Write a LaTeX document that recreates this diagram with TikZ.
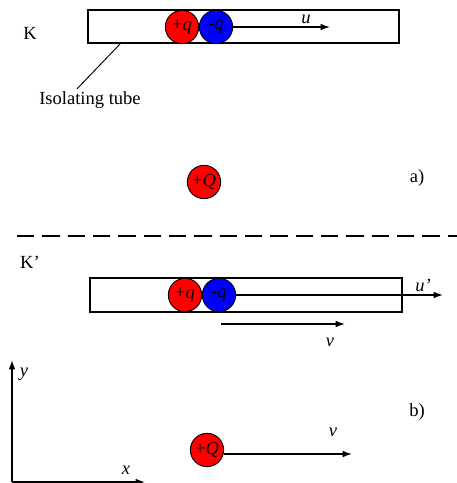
\documentclass[tikz,border=0pt]{standalone}
\usepackage{fontspec}
\setmainfont{Liberation Serif}
\usetikzlibrary{arrows.meta}
\definecolor{poscolor}{RGB}{255, 0, 0}
\definecolor{negcolor}{RGB}{0, 0, 255}

\begin{document}
\begin{tikzpicture}[
    x=0.75pt, y=-0.75pt,
    every node/.style={font=\fontsize{13.9}{16}\selectfont},
    tube/.style={draw, line width=1.5pt, inner sep=0pt},
    charge/.style={circle, draw, line width=0.7pt, inner sep=0pt, minimum size=25pt},
    velo/.style={-{Latex[length=7pt, width=5pt]}, line width=1pt},
    axis/.style={-{Latex[length=7pt, width=5pt]}, line width=1pt},
  ]

  \def\px{0.75pt}   % one pixel of the reference

  \useasboundingbox (0,0) rectangle (457,483);

  % --- a) rest frame K ---
  \node (frameA) at (30,33) {K};
  \node[tube, minimum width=311*\px, minimum height=33*\px] (tubeA) at (243.5,26.5) {};
  \node[charge, fill=poscolor] (qpA) at (182,27) {+\textit{q}};
  \node[charge, fill=negcolor] (qnA) at (216,27) {-\textit{q}};
  \coordinate (uEnd) at (330,27);
  \draw[velo] (qnA.east) -- (uEnd);
  \node (uLab) at (306,19) {\textit{u}};
  % Leader to the tube
  \node (tubeLab) at (90,100) {Isolating tube};
  \coordinate (lead) at (121,43);
  \draw[line width=0.7pt] (lead) -- ([xshift=-13*\px, yshift=-2*\px]tubeLab.north);
  \node[charge, fill=poscolor] (QA) at (204,182) {+\textit{Q}};
  \node (partA) at (417,178) {a)};

  % --- Separator ---
  \draw[line width=2pt, dash pattern=on 13pt off 6pt] (17,236) -- (457,236);

  % --- b) moving frame K' ---
  \node (frameB) at (30,262) {K’};
  \node[tube, minimum width=312*\px, minimum height=34*\px] (tubeB) at (246,295) {};
  \node[charge, fill=poscolor] (qpB) at (185,295) {+\textit{q}};
  \node[charge, fill=negcolor] (qnB) at (219,295) {-\textit{q}};
  \coordinate (uEndB) at (443,295);
  \draw[velo] (qnB.east) -- (uEndB);
  \node (uLabB) at (423,285) {\textit{u’}};
  \coordinate (vStart) at (221,324);
  \coordinate (vEnd) at (345,324);
  \draw[velo] (vStart) -- (vEnd);
  \node (vLab) at (330,342) {\textit{v}};

  % Axes
  \coordinate (origin) at (12,482);
  \coordinate (yEnd) at (12,360);
  \coordinate (xEnd) at (145,482);
  \draw[axis] (origin) -- (yEnd);
  \draw[axis] (origin) -- (xEnd);
  \node (yLab) at (24,374) {\textit{y}};
  \node (xLab) at (126,470) {\textit{x}};

  \node[charge, fill=poscolor] (QB) at (207,450) {+\textit{Q}};
  \coordinate (vEndQ) at (352,454);
  \draw[velo] (QB.east |- vEndQ) -- (vEndQ);
  \node (vLabQ) at (333,432) {\textit{v}};
  \node (partB) at (417,412) {b)};

\end{tikzpicture}
\end{document}
